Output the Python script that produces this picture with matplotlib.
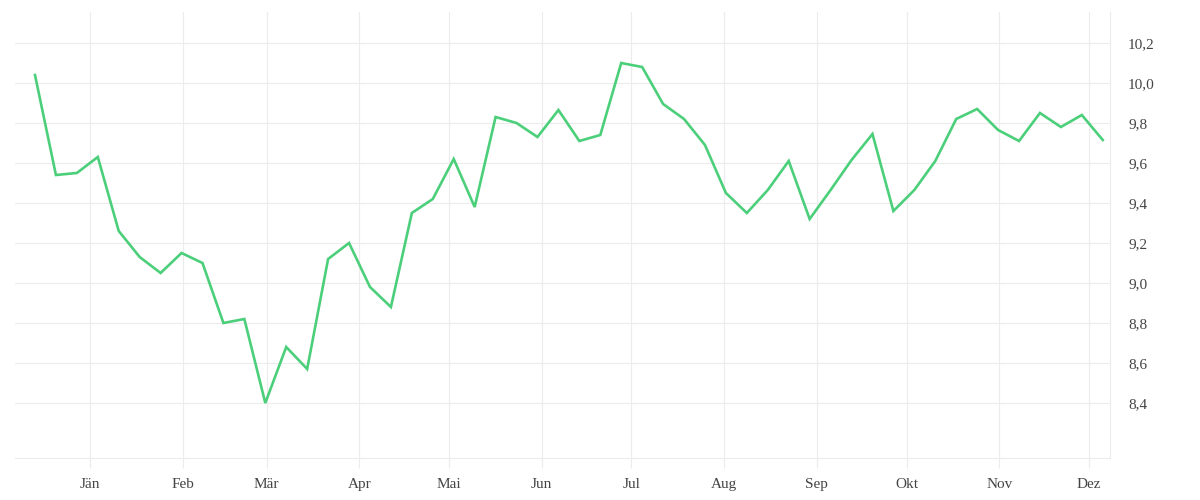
import datetime as dt
import matplotlib
matplotlib.use("Agg")
import matplotlib.pyplot as plt
import matplotlib.dates as mdates

# weekly values
start = dt.datetime(2022, 12, 13, 14)
values = [10.04, 9.54, 9.55, 9.63, 9.26, 9.13, 9.05, 9.15, 9.10, 8.80,
          8.82, 8.40, 8.68, 8.57, 9.12, 9.20, 8.98, 8.88,
          9.35, 9.42, 9.62, 9.38, 9.83, 9.80, 9.73, 9.865, 9.71, 9.74,
          10.10, 10.08, 9.895, 9.82, 9.69, 9.45, 9.35,
          9.465, 9.61, 9.32, 9.465, 9.615, 9.745, 9.36, 9.465, 9.61,
          9.82, 9.87, 9.765, 9.71, 9.85, 9.78, 9.84, 9.715]
dates = [start + dt.timedelta(weeks=i) for i in range(len(values))]

month_labels = ["Jän", "Feb", "Mär", "Apr", "Mai", "Jun",
                "Jul", "Aug", "Sep", "Okt", "Nov", "Dez"]
month_ticks = [dt.date(2023, m, 1) for m in range(1, 13)]
y_ticks = [8.4, 8.6, 8.8, 9.0, 9.2, 9.4, 9.6, 9.8, 10.0, 10.2]

grid_col = "#ececec"
text_col = "#444444"
line_col = "#4ccf7a"

fig = plt.figure(figsize=(12, 5), dpi=100)
ax = fig.add_axes([15/1200, 42/500, 1095/1200, 446/500])

ax.plot(dates, values, color=line_col, lw=1.9, solid_joinstyle="miter", zorder=3)

ax.set_xlim(mdates.date2num(dt.date(2022, 12, 7)) - 0.1,
            mdates.date2num(dt.date(2023, 12, 8)))
ax.set_ylim(8.125, 10.355)

ax.set_xticks(month_ticks)
ax.set_xticklabels(month_labels)
ax.set_yticks(y_ticks)
ax.set_yticklabels([f"{v:.1f}".replace(".", ",") for v in y_ticks])

ax.grid(True, color=grid_col, lw=0.8)
ax.set_axisbelow(True)

ax.yaxis.tick_right()
ax.tick_params(axis="y", length=0, pad=13, labelsize=11, labelcolor=text_col)
ax.tick_params(axis="x", length=7.2, width=0.8, color=grid_col, pad=7.5,
               labelsize=11, labelcolor=text_col)
for lab in ax.get_xticklabels() + ax.get_yticklabels():
    lab.set_fontfamily("Liberation Serif")
for lab in ax.get_yticklabels():
    lab.set_horizontalalignment("left")

for s in ["top", "left"]:
    ax.spines[s].set_visible(False)
for s in ["bottom", "right"]:
    ax.spines[s].set_color(grid_col)
    ax.spines[s].set_linewidth(0.8)

fig.savefig("out.png", dpi=100)
